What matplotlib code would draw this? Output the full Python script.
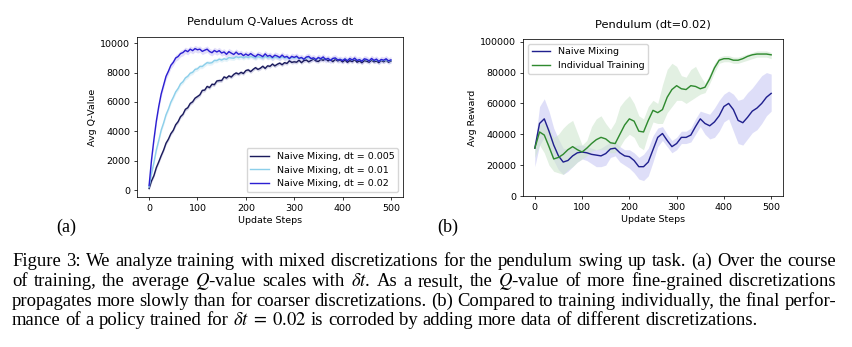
import matplotlib
matplotlib.use("Agg")
import matplotlib.pyplot as plt
import numpy as np

# ---------------- data ----------------
q_steps = list(range(0, 501, 5))
q_dt005 = [100, 620, 980, 1530, 1920, 2340, 2720, 3190, 3470, 3840, 4070, 4450, 4660, 5000, 5160, 5500, 5610, 5900, 6010, 6260, 6370,
           6490, 6790, 6810, 7060, 6980, 7210, 7180, 7430, 7460, 7460, 7710, 7630, 7780, 7700, 7880, 7980, 7900, 8020, 7940, 8140,
           8190, 8070, 8220, 8340, 8220, 8300, 8435, 8290, 8465, 8430, 8585, 8460, 8570, 8650, 8540, 8680, 8630, 8805, 8700, 8740,
           8710, 8850, 8680, 8820, 8860, 8740, 8830, 8930, 8800, 8760, 8905, 8840, 8950, 8800, 8875, 8750, 8910, 8800, 8860, 8730,
           8860, 8705, 8820, 8750, 8885, 8710, 8800, 8675, 8820, 8780, 8710, 8855, 8735, 8800, 8680, 8830, 8740, 8860, 8710, 8790]
q_dt01 = [200, 1120, 1880, 2730, 3380, 4080, 4570, 5130, 5520, 5990, 6320, 6690, 6920, 7240, 7380, 7640, 7750, 7960, 8020, 8220, 8260,
          8420, 8420, 8560, 8680, 8650, 8680, 8830, 8820, 8920, 8860, 8950, 8900, 9030, 9000, 8980, 9090, 9020, 9080, 9010, 9090,
          9036, 9113, 9049, 8996, 9092, 9049, 8995, 9112, 9018, 9065, 8971, 9068, 9034, 8981, 9077, 8994, 9030, 8937, 9033, 8990,
          9045, 8950, 8995, 8910, 9005, 9030, 8945, 8970, 8895, 8990, 8935, 9010, 8895, 8950, 8865, 8950, 8965, 8880, 8905, 8850,
          8926, 8832, 8938, 8864, 8940, 8836, 8872, 8798, 8904, 8870, 8806, 8912, 8818, 8874, 8770, 8856, 8822, 8878, 8784, 8830]
q_dt02 = [300, 2050, 3450, 4700, 5700, 6550, 7150, 7750, 8100, 8500, 8700, 9000, 9100, 9300, 9370, 9520, 9430, 9600, 9500, 9640, 9560,
          9600, 9450, 9530, 9600, 9440, 9360, 9510, 9410, 9500, 9340, 9410, 9250, 9430, 9330, 9240, 9400, 9250, 9310, 9160, 9270,
          9170, 9300, 9180, 9090, 9250, 9190, 9090, 9280, 9120, 9180, 9040, 9190, 9130, 9040, 9200, 9050, 9110, 8960, 9110, 9040,
          9122, 8975, 9037, 8910, 9062, 9105, 8957, 9010, 8892, 9035, 8947, 9070, 8882, 8975, 8837, 8970, 9002, 8865, 8907, 8820,
          8938, 8806, 8964, 8862, 8990, 8828, 8886, 8774, 8942, 8900, 8798, 8966, 8834, 8922, 8770, 8898, 8846, 8944, 8802, 8870]
q_band = [120, 150, 220]
q_labels = ["Naive Mixing, dt = 0.005", "Naive Mixing, dt = 0.01", "Naive Mixing, dt = 0.02"]

r_steps = list(range(0, 501, 10))
naive_mean = [31, 47, 50, 42, 33, 26, 22, 23, 26, 28, 28.5, 28, 27, 26.5, 26, 27.5, 30.5, 31, 28, 26, 25.5,
              23, 19, 19, 22, 30, 38, 40.5, 36, 32, 34, 38, 38, 39.5, 45, 50, 47, 45.5, 48, 52, 58,
              60, 56, 49, 47.5, 51, 55, 57, 60, 64, 66.5]
naive_lo = [19, 33, 38, 30, 23, 17, 14, 16, 19, 22, 24, 23, 21, 19, 19, 20, 25, 26, 22, 20, 18,
            15, 11, 10, 13, 22, 32, 36, 32, 28, 30, 34, 34, 35, 40, 45, 40, 37, 38, 42, 48,
            50, 42, 34, 33, 37, 41, 43, 47, 52, 55]
naive_hi = [33, 58, 63, 55, 44, 37, 31, 30, 32, 33, 33, 32, 31, 30, 31, 33, 35, 35, 32, 30, 30,
            28, 25, 27, 31, 39, 44, 45, 40, 36, 38, 42, 42, 44, 50, 55, 54, 53, 57, 62, 66,
            68, 66, 62, 63, 67, 70, 74, 78, 80, 79]
indiv_mean = [31, 41.5, 39.5, 32, 24, 25, 27, 30, 32, 30, 28.5, 31, 34, 36.5, 38, 37, 34.5, 34, 40, 46, 50,
              48.5, 42, 41.5, 49, 55.5, 54, 56, 64, 69, 71.5, 69.5, 69, 71.5, 71, 69.5, 70.5, 76, 83, 88, 89,
              89, 88, 88, 89, 90.5, 91.5, 92, 92, 92, 91.5]
indiv_lo = [25, 33, 28, 20, 16, 15, 14, 17, 19, 22, 24, 26, 29, 30, 30, 30, 28, 28, 32, 37, 40,
            38, 32, 30, 40, 48, 47, 47, 54, 58, 62, 62, 60, 62, 64, 66, 67, 73, 80, 86, 87,
            87, 86, 86, 87, 88, 89, 90, 90, 90, 89]
indiv_hi = [33, 46, 48, 44, 38, 40, 44, 47, 49, 41, 33, 36, 45, 50, 52, 47, 43, 48, 58, 62, 65,
            60, 52, 50, 58, 62, 60, 72, 82, 86, 84, 78, 77, 82, 84, 78, 73, 79, 86, 90, 91,
            91, 90, 90, 91, 92, 93, 94, 94, 94, 93]
r_labels = ["Naive Mixing", "Individual Training"]

caption_lines = [
    ["Figure", "3:", "We", "analyze", "training", "with", "mixed", "discretizations", "for", "the", "pendulum",
     "swing", "up", "task.", "(a)", "Over", "the", "course"],
    ["of", "training,", "the", "average", r"$Q$-value", "scales", "with", r"$\delta t$.", "As", "a", "result,",
     "the", r"$Q$-value", "of", "more", "fine-grained", "discretizations"],
    ["propagates", "more", "slowly", "than", "for", "coarser", "discretizations.", "(b)", "Compared", "to",
     "training", "individually,", "the", "final", "perfor-"],
    ["mance", "of", "a", "policy", "trained", "for", r"$\delta t\;=\;0.02$", "is", "corroded", "by", "adding",
     "more", "data", "of", "different", "discretizations."],
]

# ---------------- figure ----------------
W, H = 852, 347
plt.rcParams["mathtext.fontset"] = "stix"
fig = plt.figure(figsize=(W / 100, H / 100), dpi=100)
fig.patch.set_facecolor("white")

S = 0.68
lab = 10 * S
tick_kw = dict(labelsize=lab, length=3.5 * S, width=0.8 * S, pad=3.5 * S)

def px_axes(l, t, r, b):
    return fig.add_axes([l / W, 1 - b / H, (r - l) / W, (b - t) / H])

# ---- left panel ----
ax1 = px_axes(137, 37, 403, 197)
colors1 = ["#1b1b5c", "#8ccfea", "#2c1fd2"]
shade1 = ["#b9b9d8", "#d4ecf6", "#cfc8f7"]
for vals, band, c, sc, lb in zip([q_dt005, q_dt01, q_dt02], q_band, colors1, shade1, q_labels):
    v = np.array(vals, dtype=float)
    ax1.fill_between(q_steps, v - band, v + band, color=sc, alpha=0.6, lw=0)
    ax1.plot(q_steps, v, color=c, lw=1.5 * S, label=lb)
ax1.set_ylim(-477, 10430)
ax1.set_xticks([0, 100, 200, 300, 400, 500])
ax1.set_yticks([0, 2000, 4000, 6000, 8000, 10000])
ax1.set_title("Pendulum Q-Values Across dt", fontsize=12 * S, pad=9)
ax1.set_xlabel("Update Steps", fontsize=lab, labelpad=4 * S)
ax1.set_ylabel("Avg Q-Value", fontsize=lab, labelpad=4 * S)
ax1.tick_params(**tick_kw)
for s in ax1.spines.values():
    s.set_linewidth(0.8 * S)
ax1.legend(loc="lower right", fontsize=lab, frameon=True, handlelength=2.0,
           borderpad=0.4, labelspacing=0.5)

# ---- right panel ----
ax2 = px_axes(523, 39, 783, 196)
k = 1000.0
ax2.fill_between(r_steps, np.array(naive_lo) * k, np.array(naive_hi) * k, color="#c9c9f4", alpha=0.6, lw=0)
ax2.fill_between(r_steps, np.array(indiv_lo) * k, np.array(indiv_hi) * k, color="#cfe6cf", alpha=0.6, lw=0)
ax2.plot(r_steps, np.array(naive_mean) * k, color="#20208e", lw=1.5 * S, label=r_labels[0])
ax2.plot(r_steps, np.array(indiv_mean) * k, color="#2f8a2f", lw=1.5 * S, label=r_labels[1])
ax2.set_ylim(0, 101750)
ax2.set_xticks([0, 100, 200, 300, 400, 500])
ax2.set_yticks([0, 20000, 40000, 60000, 80000, 100000])
ax2.set_title("Pendulum (dt=0.02)", fontsize=12 * S, pad=8)
ax2.set_xlabel("Update Steps", fontsize=lab, labelpad=4 * S)
ax2.set_ylabel("Avg Reward", fontsize=lab, labelpad=4 * S)
ax2.tick_params(**tick_kw)
for s in ax2.spines.values():
    s.set_linewidth(0.8 * S)
ax2.legend(loc="upper left", fontsize=lab, frameon=True, handlelength=2.0,
           borderpad=0.4, labelspacing=0.5)

# ---- panel labels ----
serif = ["Liberation Serif", "DejaVu Serif"]
fig.text(66 / W, 1 - 232 / H, "(a)", fontsize=13, family=serif, ha="center", va="baseline")
fig.text(448 / W, 1 - 232 / H, "(b)", fontsize=13, family=serif, ha="center", va="baseline")

# ---- caption (justified) ----
renderer = fig.canvas.get_renderer()

def measure(words, size):
    ws = []
    for w in words:
        t = fig.text(0, 0, w, fontsize=size, family=serif)
        ws.append(t.get_window_extent(renderer).width)
        t.remove()
    return ws

x0, x1 = 12, 836
ref_last_width = 743
base_size = 12
ws = measure(caption_lines[-1], base_size)
nat = sum(ws) + (len(ws) - 1) * 0.25 * base_size * 100 / 72
cap_size = base_size * ref_last_width / nat

baselines = [266, 286, 305.5, 325]
for i, (words, yb) in enumerate(zip(caption_lines, baselines)):
    ws = measure(words, cap_size)
    if i < len(caption_lines) - 1:
        gap = (x1 - x0 - sum(ws)) / (len(ws) - 1)
    else:
        gap = 0.25 * cap_size * 100 / 72
    x = x0
    for w, wd in zip(words, ws):
        fig.text(x / W, 1 - yb / H, w, fontsize=cap_size, family=serif, ha="left", va="baseline")
        x += wd + gap

fig.savefig("out.png", dpi=100, facecolor="white")
